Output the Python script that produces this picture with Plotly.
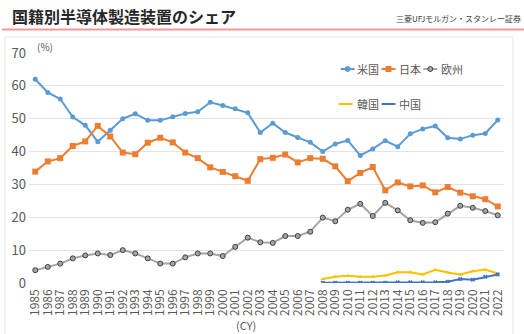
import plotly.graph_objects as go

years = list(range(1985, 2023))
years_kr_cn = list(range(2008, 2023))

us = [62, 58, 56, 50.5, 48, 43, 46.5, 50, 51.5, 49.5, 49.5, 50.6, 51.6, 52.1, 55, 54,
      53, 51.8, 45.8, 48.6, 45.8, 44.3, 42.8, 40, 42.3, 43.4, 38.8, 40.8, 43.3, 41.5,
      45.4, 46.9, 47.8, 44.2, 43.8, 45, 45.5, 49.6]
japan = [33.9, 37, 38, 41.7, 43.1, 47.8, 44.6, 39.7, 39.2, 42.7, 44.2, 42.8, 39.7, 38,
         35.2, 33.8, 32.5, 31.1, 37.7, 38.1, 39.1, 36.7, 38, 37.8, 35.5, 31, 33.5, 35.3,
         28.2, 30.6, 29.4, 29.7, 27.6, 29.2, 27.5, 26.4, 25.5, 23.3]
europe = [3.9, 4.9, 5.9, 7.5, 8.4, 9, 8.5, 10, 9, 7.5, 5.9, 5.9, 7.8, 9, 9, 8.2, 11,
          13.8, 12.4, 12.2, 14.3, 14.3, 15.6, 19.9, 18.8, 22.3, 24.1, 20.4, 24.4, 22.1,
          19.1, 18.3, 18.5, 21.1, 23.5, 22.9, 21.9, 20.6]
korea = [1.2, 1.9, 2.2, 1.9, 1.9, 2.3, 3.3, 3.3, 2.6, 4.0, 3.2, 2.6, 3.6, 4.1, 2.9]
china = [0.1, 0.1, 0.1, 0.1, 0.1, 0.1, 0.2, 0.2, 0.2, 0.2, 0.4, 1.2, 1.0, 1.9, 2.6]

y_ticks = [0, 10, 20, 30, 40, 50, 60, 70]

W_FIG, H_FIG = 524, 334
L, R, T, B = 27, 20, 53, 51
PW = W_FIG - L - R
PH = H_FIG - T - B


def px(x):
    return (x - L) / PW


def py(y):
    return (H_FIG - B - y) / PH


FONT = "Noto Sans CJK JP"
GRAY_TXT = "#595959"

# series styling: name, x, y, colour, marker symbol, marker size, marker edge
series = [
    ("米国", years, us, "#5B9BD5", "circle", 5, None),
    ("日本", years, japan, "#ED7D31", "square", 6, None),
    ("欧州", years, europe, "#A5A5A5", "circle", 5, "#404040"),
    ("韓国", years_kr_cn, korea, "#FFC000", "triangle-up", 4, None),
    ("中国", years_kr_cn, china, "#4472C4", "x", 4, None),
]

fig = go.Figure()
for name, xs, ys, col, sym, size, edge in series:
    mk = dict(symbol=sym, size=size, color=col)
    if edge:
        mk["line"] = dict(color=edge, width=1)
    fig.add_trace(go.Scatter(
        x=xs, y=ys, name=name, mode="lines+markers",
        line=dict(color=col, width=2), marker=mk, showlegend=False))

fig.update_layout(
    width=W_FIG, height=H_FIG,
    margin=dict(l=L, r=R, t=T, b=B),
    paper_bgcolor="white", plot_bgcolor="white",
    font=dict(family=FONT, color=GRAY_TXT),
    showlegend=False,
    xaxis=dict(
        range=[1984.5, 2022.5], tickmode="array", tickvals=years,
        ticktext=[str(y) for y in years], tickangle=-90,
        tickfont=dict(size=12, color=GRAY_TXT), showgrid=False,
        showline=False, zeroline=False, ticks="", ticklabelstandoff=3,
    ),
    yaxis=dict(
        range=[0, 70], tickmode="array", tickvals=y_ticks,
        tickfont=dict(size=13, color=GRAY_TXT), gridcolor="#E3E3E3",
        gridwidth=1, zeroline=False, showline=False, ticks="",
        ticklabelstandoff=2,
    ),
)

# legend keys drawn in two rows: (key line start x, row y, text x)
legend_pos = {
    "米国": (340, 69, 354),
    "日本": (381, 69, 397),
    "欧州": (423, 69, 439),
    "韓国": (338, 104, 354),
    "中国": (381, 104, 397),
}
for name, xs, ys, col, sym, size, edge in series:
    x0, yy, tx = legend_pos[name]
    x1 = x0 + 14
    fig.add_shape(type="line", xref="paper", yref="paper",
                  x0=px(x0), x1=px(x1), y0=py(yy), y1=py(yy),
                  line=dict(color=col, width=2))
    cx = (x0 + x1) / 2
    r = size / 2
    if sym == "circle":
        fig.add_shape(type="circle", xref="paper", yref="paper",
                      x0=px(cx - r), x1=px(cx + r), y0=py(yy - r), y1=py(yy + r),
                      fillcolor=col, line=dict(color=edge or col, width=1))
    elif sym == "square":
        fig.add_shape(type="rect", xref="paper", yref="paper",
                      x0=px(cx - r), x1=px(cx + r), y0=py(yy - r), y1=py(yy + r),
                      fillcolor=col, line=dict(color=col, width=0))
    fig.add_annotation(
        text=name, x=px(tx), y=py(yy), xref="paper", yref="paper",
        xanchor="left", yanchor="middle", showarrow=False,
        font=dict(family=FONT, size=11, color=GRAY_TXT))

# header: title, source and rule
fig.add_annotation(
    text="<b>国籍別半導体製造装置のシェア</b>", x=px(8), y=py(16),
    xref="paper", yref="paper", xanchor="left", yanchor="middle",
    showarrow=False, font=dict(family=FONT, size=16, color="#262626"))
fig.add_annotation(
    text="三菱UFJモルガン・スタンレー証券", x=px(394), y=py(18),
    xref="paper", yref="paper", xanchor="left", yanchor="middle",
    showarrow=False, font=dict(family=FONT, size=8, color="#404040"))
fig.add_shape(type="line", xref="paper", yref="paper",
              x0=px(0), x1=px(524), y0=py(29.5), y1=py(29.5),
              line=dict(color="#EE9A9A", width=2))
fig.add_shape(type="rect", xref="paper", yref="paper",
              x0=px(3), x1=px(513), y0=py(37), y1=py(340),
              line=dict(color="#E6E6E6", width=1), layer="below")

# axis captions
fig.add_annotation(
    text="(%)", x=px(33), y=py(47), xref="paper", yref="paper",
    xanchor="left", yanchor="middle", showarrow=False,
    font=dict(family=FONT, size=10, color=GRAY_TXT))
fig.add_annotation(
    text="(CY)", x=px(245), y=py(325), xref="paper", yref="paper",
    xanchor="center", yanchor="middle", showarrow=False,
    font=dict(family=FONT, size=11, color=GRAY_TXT))

fig.write_html("out.html")
